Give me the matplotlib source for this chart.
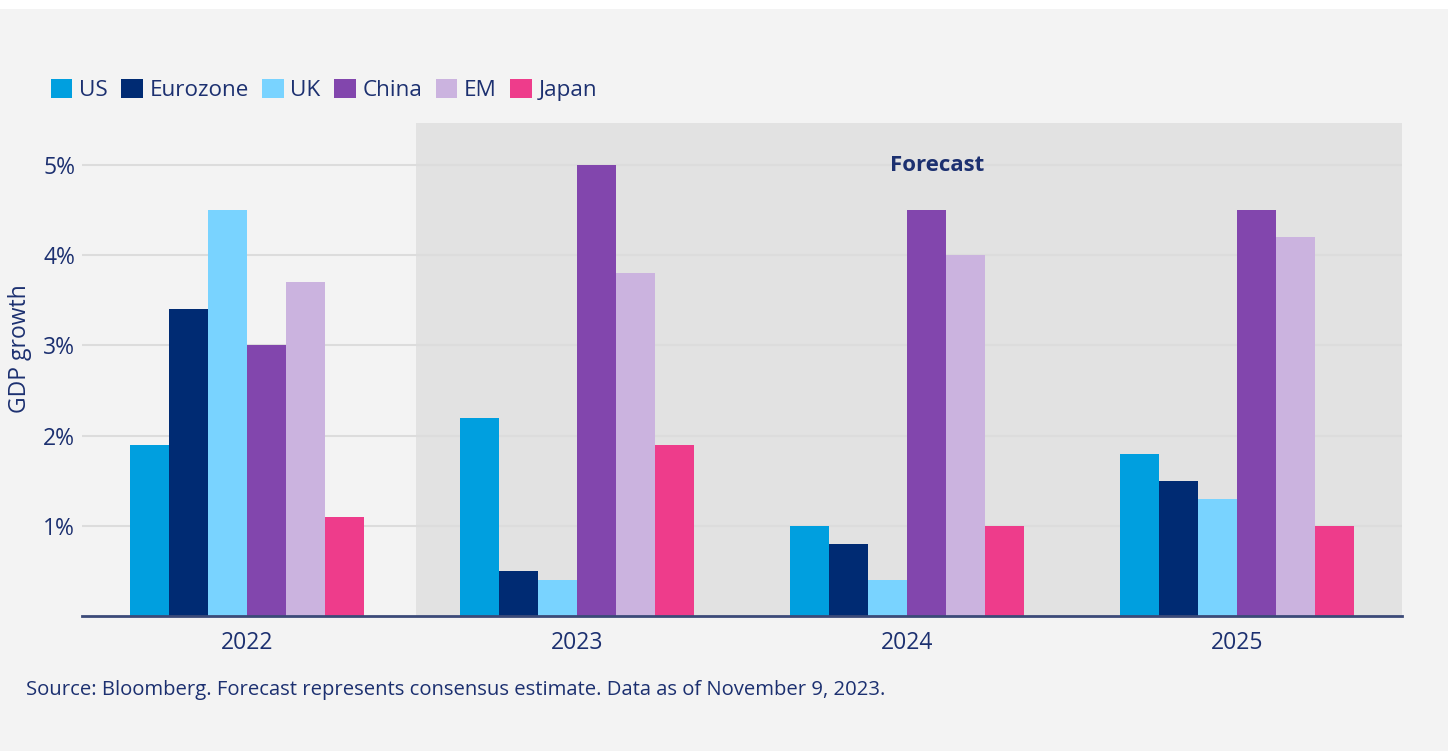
import numpy as np
import matplotlib.pyplot as plt
from matplotlib.patches import Rectangle

plt.rcParams['font.family'] = ['Open Sans', 'DejaVu Sans']

years = ["2022", "2023", "2024", "2025"]
regions = ["US", "Eurozone", "UK", "China", "EM", "Japan"]
us = [1.9, 2.2, 1.0, 1.8]
eurozone = [3.4, 0.5, 0.8, 1.5]
uk = [4.5, 0.4, 0.4, 1.3]
china = [3.0, 5.0, 4.5, 4.5]
em = [3.7, 3.8, 4.0, 4.2]
japan = [1.1, 1.9, 1.0, 1.0]
yticks = [1, 2, 3, 4, 5]

colors = ["#009fdf", "#002b73", "#79d3ff", "#8246ad", "#cbb3df", "#ee3c8b"]
navy = "#1c3070"
bg = "#f3f3f3"

fig = plt.figure(figsize=(14.54, 7.51), dpi=100, facecolor="white")
# grey panel (thin white margin at top and right)
fig.patches.append(Rectangle((0, 0), 1448 / 1454, 1 - 9 / 751, transform=fig.transFigure,
                             facecolor=bg, edgecolor="none", zorder=-10))

ax = fig.add_axes([82 / 1454, 1 - 616 / 751, 1320 / 1454, 493 / 751])
ax.set_facecolor("none")

series = [us, eurozone, uk, china, em, japan]
x = np.arange(len(years))
w = 0.118
for i, (vals, name) in enumerate(zip(series, regions)):
    ax.bar(x + (i - 2.5) * w, vals, width=w, color=colors[i], label=name, zorder=3)

# forecast shading
ax.axvspan(0.512, 3.5, color="#e2e2e2", zorder=0, lw=0)
ax.text(2.09, 4.99, "Forecast", ha="center", va="center", fontsize=16,
        fontweight="bold", color=navy, zorder=4)

ax.set_xlim(-0.5, 3.5)
ax.set_ylim(0, 5.466)
ax.set_yticks(yticks)
ax.set_yticklabels([f"{t}%" for t in yticks])
ax.set_xticks(x)
ax.set_xticklabels(years)
ax.yaxis.grid(True, color="#dcdcdc", lw=1.5, zorder=1)
ax.set_axisbelow(False)
ax.tick_params(axis="both", length=0, labelsize=16.5, labelcolor=navy)
ax.tick_params(axis="x", pad=11)
ax.tick_params(axis="y", pad=5)
for s in ["top", "right", "left"]:
    ax.spines[s].set_visible(False)
ax.spines["bottom"].set_color("#3b4a78")
ax.spines["bottom"].set_linewidth(2)
ax.spines["bottom"].set_zorder(5)

fig.text(20 / 1454, 1 - 349 / 751, "GDP growth", rotation=90, ha="center", va="center",
         fontsize=16.5, color=navy)

handles, labels = ax.get_legend_handles_labels()
fig.legend(handles, labels, loc="center left", bbox_to_anchor=(42 / 1454, 1 - 90 / 751),
           ncol=6, frameon=False, fontsize=16.2, labelcolor=navy, handlelength=0.95,
           handleheight=0.95, handletextpad=0.3, columnspacing=0.6, borderaxespad=0)

fig.text(26 / 1454, 1 - 690 / 751, "Source: Bloomberg. Forecast represents consensus estimate. "
         "Data as of November 9, 2023.", ha="left", va="center", fontsize=14.6, color=navy)

fig.savefig("out.png", dpi=100, facecolor=fig.get_facecolor())
